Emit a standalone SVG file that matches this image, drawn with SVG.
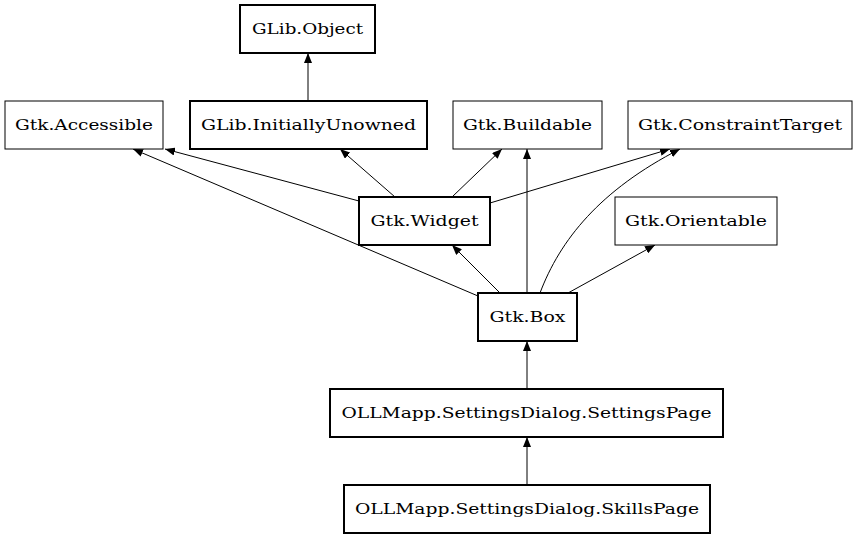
<svg xmlns="http://www.w3.org/2000/svg" width="859" height="539" viewBox="0 0 859 539">
<style>
rect{fill:#fff;stroke:#000;stroke-width:1}
.b rect{stroke-width:2}
text{font-family:"DejaVu Serif","Liberation Serif",serif;font-size:15px;text-anchor:middle;dominant-baseline:central}
.e path{fill:none;stroke:#000;stroke-width:1;marker-end:url(#a)}
</style>
<defs><marker id="a" markerWidth="10" markerHeight="8" refX="10" refY="4" orient="auto" markerUnits="userSpaceOnUse"><path d="M0,0L10,4L0,8z" fill="#000"/></marker></defs>
<rect x="0" y="0" width="859" height="539" style="stroke:none"/>
<g class="e">
<path d="M308,101L308,53"/>
<path d="M359,201L165,149"/>
<path d="M395,197L340,149"/>
<path d="M452,197L502,149"/>
<path d="M490,203L670,149"/>
<path d="M478,296L133,149"/>
<path d="M500,293L452,245"/>
<path d="M527,293L527,149"/>
<path d="M540,293C560,240 600,190 680,149"/>
<path d="M568,293L655,245"/>
<path d="M527,389L527,341"/>
<path d="M527,485L527,437"/>
</g>
<g id="n1" class="b"><rect x="240" y="5" width="135" height="48"/><text x="307.5" y="29" textLength="111" lengthAdjust="spacingAndGlyphs">GLib.Object</text></g>
<g id="n2"><rect x="5" y="101" width="158" height="48"/><text x="84" y="125" textLength="138" lengthAdjust="spacingAndGlyphs">Gtk.Accessible</text></g>
<g id="n3" class="b"><rect x="190" y="101" width="237" height="48"/><text x="308.5" y="125" textLength="215" lengthAdjust="spacingAndGlyphs">GLib.InitiallyUnowned</text></g>
<g id="n4"><rect x="453" y="101" width="149" height="48"/><text x="527.5" y="125" textLength="129" lengthAdjust="spacingAndGlyphs">Gtk.Buildable</text></g>
<g id="n5"><rect x="628" y="101" width="224" height="48"/><text x="740" y="125" textLength="204" lengthAdjust="spacingAndGlyphs">Gtk.ConstraintTarget</text></g>
<g id="n6" class="b"><rect x="359" y="197" width="131" height="48"/><text x="424.5" y="221" textLength="108" lengthAdjust="spacingAndGlyphs">Gtk.Widget</text></g>
<g id="n7"><rect x="615" y="197" width="162" height="48"/><text x="696" y="221" textLength="142" lengthAdjust="spacingAndGlyphs">Gtk.Orientable</text></g>
<g id="n8" class="b"><rect x="478" y="293" width="99" height="48"/><text x="527.5" y="317" textLength="76" lengthAdjust="spacingAndGlyphs">Gtk.Box</text></g>
<g id="n9" class="b"><rect x="330" y="389" width="393" height="48"/><text x="526.5" y="413" textLength="370" lengthAdjust="spacingAndGlyphs">OLLMapp.SettingsDialog.SettingsPage</text></g>
<g id="n10" class="b"><rect x="344" y="485" width="366" height="48"/><text x="527" y="509" textLength="344" lengthAdjust="spacingAndGlyphs">OLLMapp.SettingsDialog.SkillsPage</text></g>
</svg>
